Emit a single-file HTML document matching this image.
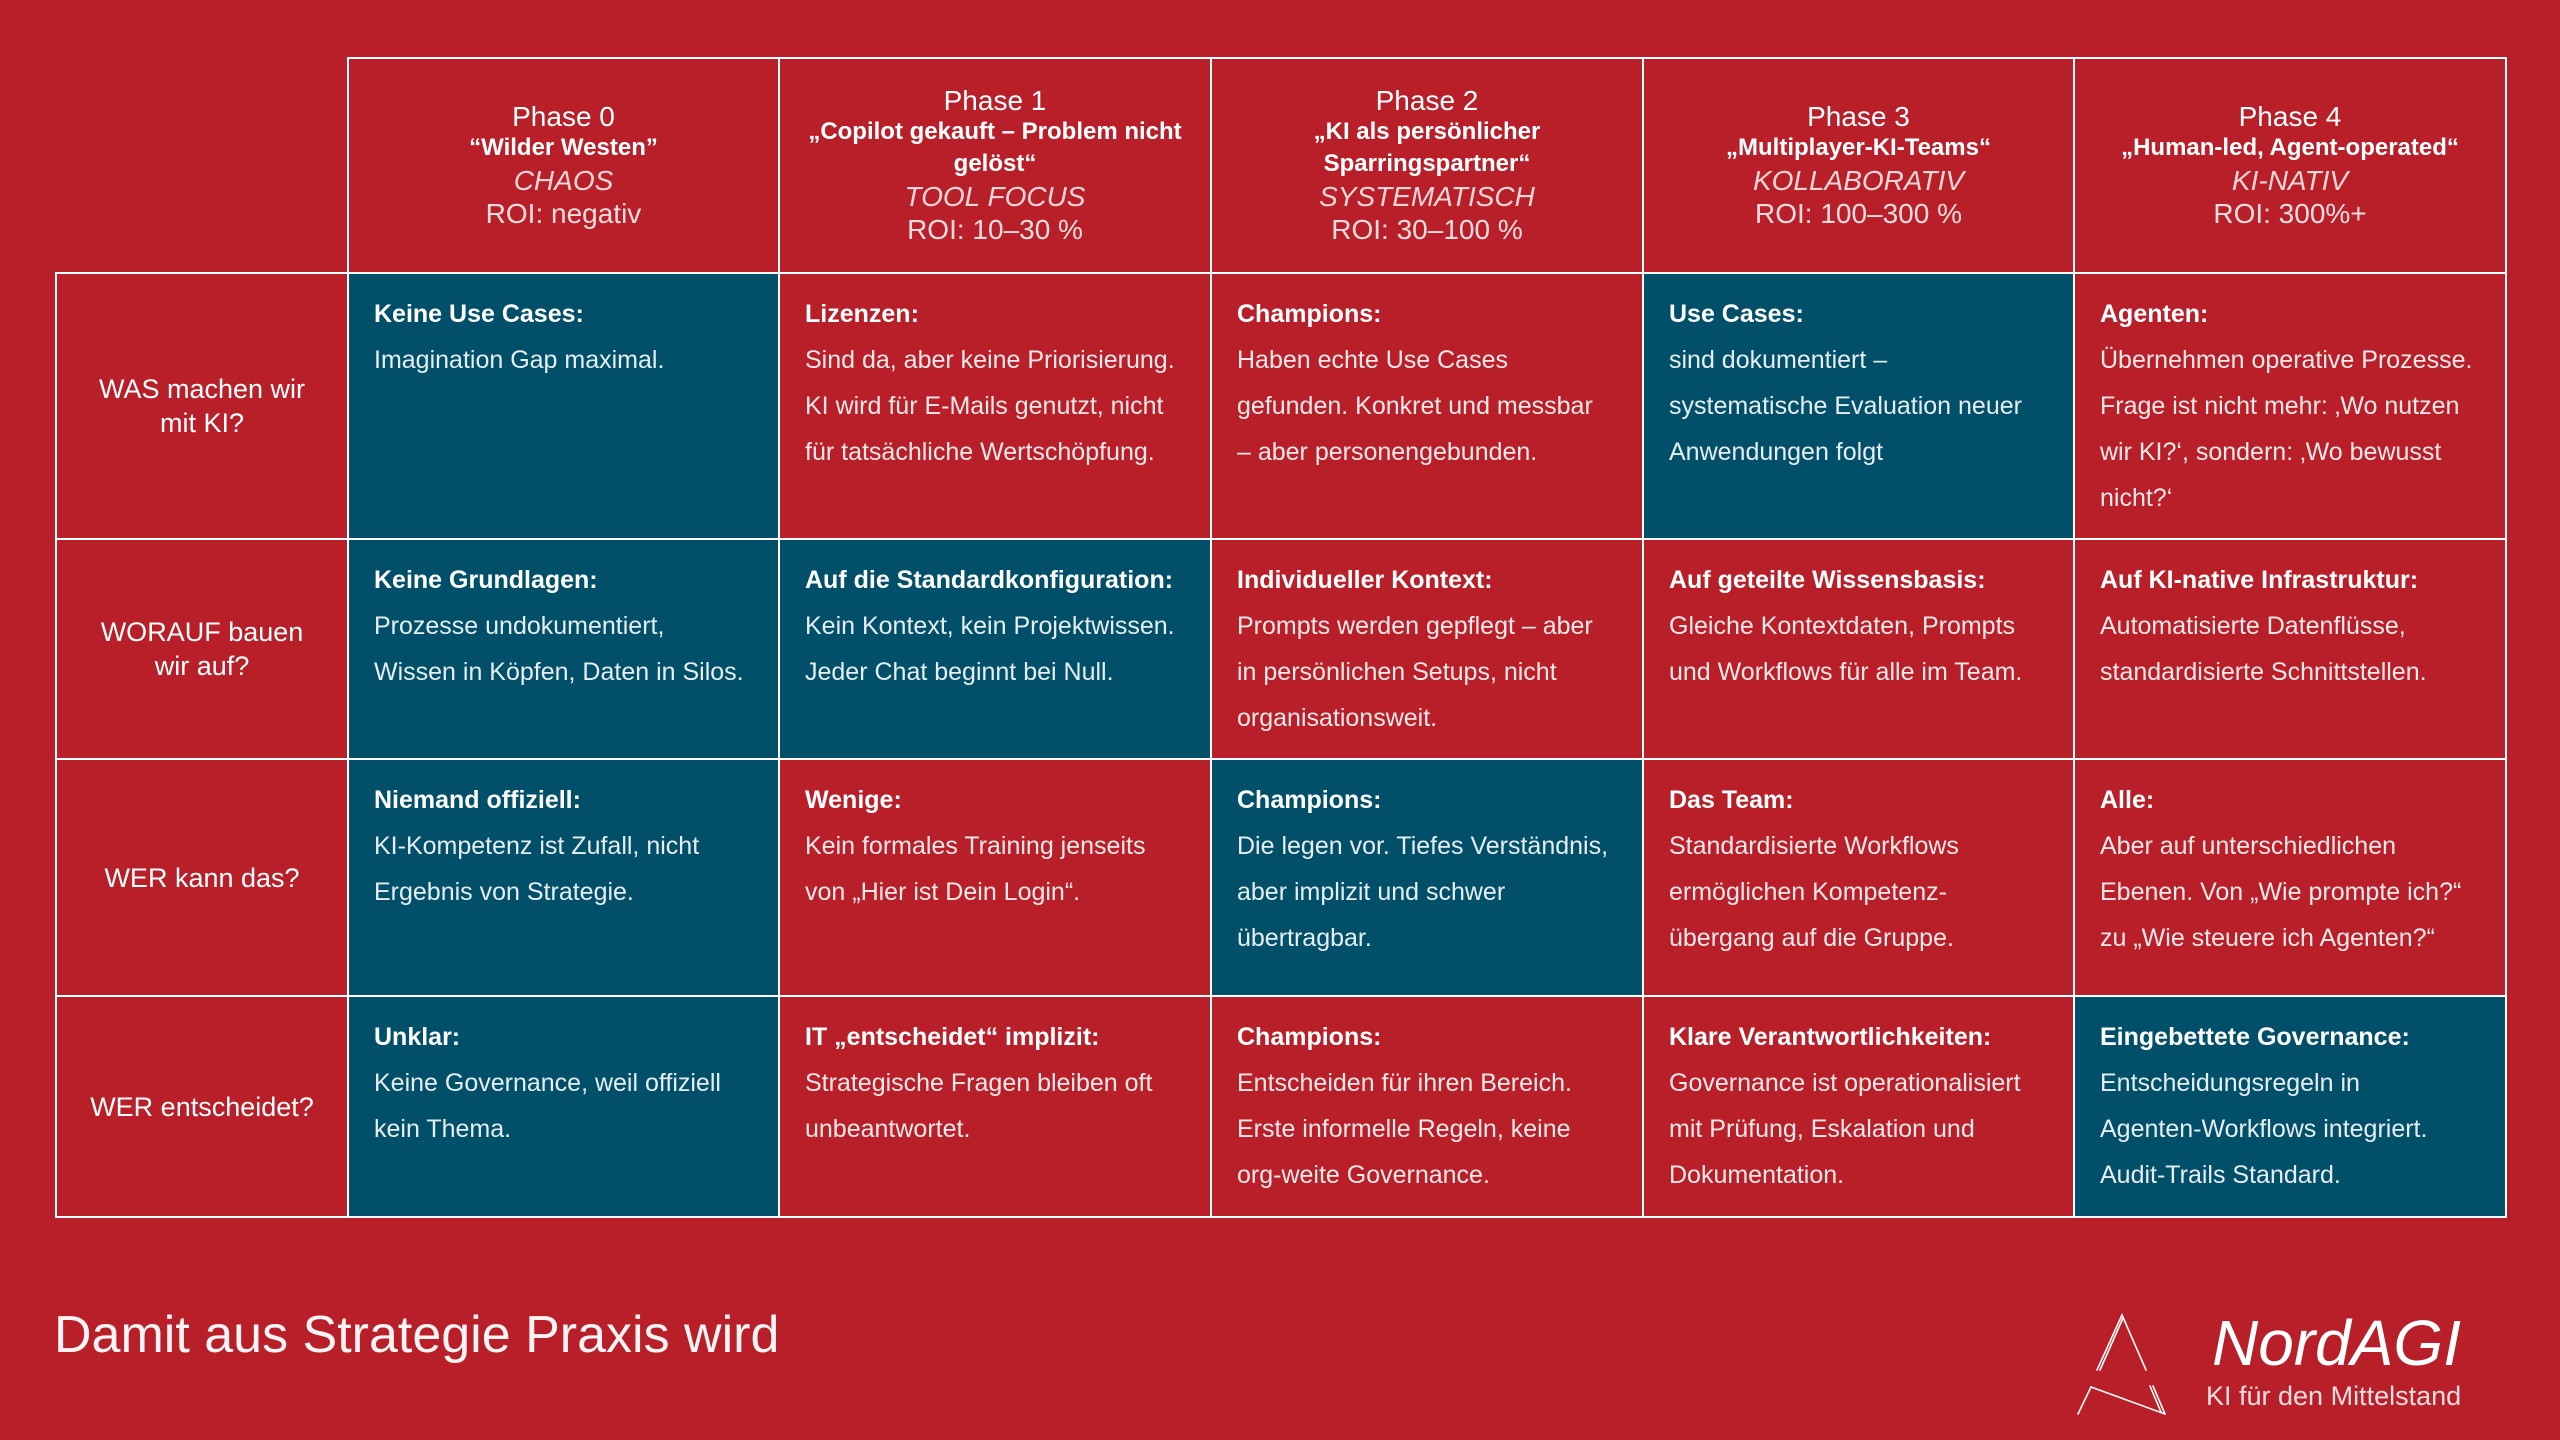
<!DOCTYPE html>
<html>
<head>
<meta charset="utf-8">
<style>
  html,body{margin:0;padding:0;}
  body{width:2560px;height:1440px;background:#B81F28;position:relative;overflow:hidden;
    font-family:"Liberation Sans","DejaVu Sans",sans-serif;color:#fff;}
  .hl{position:absolute;height:2px;background:#fff;}
  .vl{position:absolute;width:2px;background:#fff;}
  .blue{position:absolute;background:#024F6A;}
  .hdr{position:absolute;top:59px;height:213px;display:flex;flex-direction:column;justify-content:center;align-items:center;text-align:center;white-space:nowrap;}
  .hdr .ph{font-size:28px;line-height:30px;}
  .hdr .sub{font-size:24px;font-weight:bold;line-height:32px;}
  .hdr .it{font-size:28px;font-style:italic;line-height:33px;color:rgba(255,255,255,0.82);}
  .hdr .roi{font-size:28px;line-height:33px;color:rgba(255,255,255,0.85);}
  .lab{position:absolute;left:57px;width:290px;display:flex;align-items:center;justify-content:center;text-align:center;font-size:27px;line-height:34px;}
  .cell{position:absolute;font-size:25px;line-height:46px;white-space:nowrap;color:rgba(255,255,255,0.9);}
  .cell b{color:#fff;font-weight:bold;}
</style>
</head>
<body>

<!-- blue cells -->
<!-- row1 273-539 -->
<div class="blue" style="left:349px;top:274px;width:430px;height:265px;"></div>
<div class="blue" style="left:1644px;top:274px;width:430px;height:265px;"></div>
<!-- row2 539-759 -->
<div class="blue" style="left:349px;top:540px;width:430px;height:219px;"></div>
<div class="blue" style="left:780px;top:540px;width:431px;height:219px;"></div>
<!-- row3 759-996 -->
<div class="blue" style="left:349px;top:760px;width:430px;height:236px;"></div>
<div class="blue" style="left:1212px;top:760px;width:431px;height:236px;"></div>
<!-- row4 996-1217 -->
<div class="blue" style="left:349px;top:997px;width:430px;height:220px;"></div>
<div class="blue" style="left:2075px;top:997px;width:431px;height:220px;"></div>

<!-- grid lines -->
<div class="hl" style="left:347px;top:57px;width:2160px;"></div>
<div class="hl" style="left:55px;top:272px;width:2452px;"></div>
<div class="hl" style="left:55px;top:538px;width:2452px;"></div>
<div class="hl" style="left:55px;top:758px;width:2452px;"></div>
<div class="hl" style="left:55px;top:995px;width:2452px;"></div>
<div class="hl" style="left:55px;top:1216px;width:2452px;"></div>

<div class="vl" style="left:55px;top:272px;height:946px;"></div>
<div class="vl" style="left:347px;top:57px;height:1161px;"></div>
<div class="vl" style="left:778px;top:57px;height:1161px;"></div>
<div class="vl" style="left:1210px;top:57px;height:1161px;"></div>
<div class="vl" style="left:1642px;top:57px;height:1161px;"></div>
<div class="vl" style="left:2073px;top:57px;height:1161px;"></div>
<div class="vl" style="left:2505px;top:57px;height:1161px;"></div>

<!-- headers -->
<div class="hdr" style="left:349px;width:429px;">
  <div class="ph">Phase 0</div>
  <div class="sub">“Wilder Westen”</div>
  <div class="it">CHAOS</div>
  <div class="roi">ROI: negativ</div>
</div>
<div class="hdr" style="left:780px;width:430px;">
  <div class="ph">Phase 1</div>
  <div class="sub">„Copilot gekauft – Problem nicht</div>
  <div class="sub">gelöst“</div>
  <div class="it">TOOL FOCUS</div>
  <div class="roi">ROI: 10–30 %</div>
</div>
<div class="hdr" style="left:1212px;width:430px;">
  <div class="ph">Phase 2</div>
  <div class="sub">„KI als persönlicher</div>
  <div class="sub">Sparringspartner“</div>
  <div class="it">SYSTEMATISCH</div>
  <div class="roi">ROI: 30–100 %</div>
</div>
<div class="hdr" style="left:1644px;width:429px;">
  <div class="ph">Phase 3</div>
  <div class="sub">„Multiplayer-KI-Teams“</div>
  <div class="it">KOLLABORATIV</div>
  <div class="roi">ROI: 100–300 %</div>
</div>
<div class="hdr" style="left:2075px;width:430px;">
  <div class="ph">Phase 4</div>
  <div class="sub">„Human-led, Agent-operated“</div>
  <div class="it">KI-NATIV</div>
  <div class="roi">ROI: 300%+</div>
</div>

<!-- row labels -->
<div class="lab" style="top:274px;height:264px;">WAS machen wir<br>mit KI?</div>
<div class="lab" style="top:540px;height:218px;">WORAUF bauen<br>wir auf?</div>
<div class="lab" style="top:760px;height:235px;">WER kann das?</div>
<div class="lab" style="top:997px;height:219px;">WER entscheidet?</div>

<!-- row 1 (top 273) -->
<div class="cell" style="left:374px;top:291px;"><b>Keine Use Cases:</b><br>Imagination Gap maximal.</div>
<div class="cell" style="left:805px;top:291px;"><b>Lizenzen:</b><br>Sind da, aber keine Priorisierung.<br>KI wird für E-Mails genutzt, nicht<br>für tatsächliche Wertschöpfung.</div>
<div class="cell" style="left:1237px;top:291px;"><b>Champions:</b><br>Haben echte Use Cases<br>gefunden. Konkret und messbar<br>– aber personengebunden.</div>
<div class="cell" style="left:1669px;top:291px;"><b>Use Cases:</b><br>sind dokumentiert –<br>systematische Evaluation neuer<br>Anwendungen folgt</div>
<div class="cell" style="left:2100px;top:291px;"><b>Agenten:</b><br>Übernehmen operative Prozesse.<br>Frage ist nicht mehr: ‚Wo nutzen<br>wir KI?‘, sondern: ‚Wo bewusst<br>nicht?‘</div>

<!-- row 2 (top 539) -->
<div class="cell" style="left:374px;top:557px;"><b>Keine Grundlagen:</b><br>Prozesse undokumentiert,<br>Wissen in Köpfen, Daten in Silos.</div>
<div class="cell" style="left:805px;top:557px;"><b>Auf die Standardkonfiguration:</b><br>Kein Kontext, kein Projektwissen.<br>Jeder Chat beginnt bei Null.</div>
<div class="cell" style="left:1237px;top:557px;"><b>Individueller Kontext:</b><br>Prompts werden gepflegt – aber<br>in persönlichen Setups, nicht<br>organisationsweit.</div>
<div class="cell" style="left:1669px;top:557px;"><b>Auf geteilte Wissensbasis:</b><br>Gleiche Kontextdaten, Prompts<br>und Workflows für alle im Team.</div>
<div class="cell" style="left:2100px;top:557px;"><b>Auf KI-native Infrastruktur:</b><br>Automatisierte Datenflüsse,<br>standardisierte Schnittstellen.</div>

<!-- row 3 (top 759) -->
<div class="cell" style="left:374px;top:777px;"><b>Niemand offiziell:</b><br>KI-Kompetenz ist Zufall, nicht<br>Ergebnis von Strategie.</div>
<div class="cell" style="left:805px;top:777px;"><b>Wenige:</b><br>Kein formales Training jenseits<br>von „Hier ist Dein Login“.</div>
<div class="cell" style="left:1237px;top:777px;"><b>Champions:</b><br>Die legen vor. Tiefes Verständnis,<br>aber implizit und schwer<br>übertragbar.</div>
<div class="cell" style="left:1669px;top:777px;"><b>Das Team:</b><br>Standardisierte Workflows<br>ermöglichen Kompetenz-<br>übergang auf die Gruppe.</div>
<div class="cell" style="left:2100px;top:777px;"><b>Alle:</b><br>Aber auf unterschiedlichen<br>Ebenen. Von „Wie prompte ich?“<br>zu „Wie steuere ich Agenten?“</div>

<!-- row 4 (top 996) -->
<div class="cell" style="left:374px;top:1014px;"><b>Unklar:</b><br>Keine Governance, weil offiziell<br>kein Thema.</div>
<div class="cell" style="left:805px;top:1014px;"><b>IT „entscheidet“ implizit:</b><br>Strategische Fragen bleiben oft<br>unbeantwortet.</div>
<div class="cell" style="left:1237px;top:1014px;"><b>Champions:</b><br>Entscheiden für ihren Bereich.<br>Erste informelle Regeln, keine<br>org-weite Governance.</div>
<div class="cell" style="left:1669px;top:1014px;"><b>Klare Verantwortlichkeiten:</b><br>Governance ist operationalisiert<br>mit Prüfung, Eskalation und<br>Dokumentation.</div>
<div class="cell" style="left:2100px;top:1014px;"><b>Eingebettete Governance:</b><br>Entscheidungsregeln in<br>Agenten-Workflows integriert.<br>Audit-Trails Standard.</div>

<!-- footer title -->
<div style="position:absolute;left:54px;top:1309px;font-size:52px;line-height:52px;white-space:nowrap;color:rgba(255,255,255,0.95);">Damit aus Strategie Praxis wird</div>

<!-- logo -->
<svg style="position:absolute;left:0;top:0;" width="2560" height="1440" viewBox="0 0 2560 1440">
  <g fill="none" stroke="#fff" stroke-width="1.6" stroke-linecap="round" stroke-linejoin="miter">
    <polyline points="2097,1370 2122,1315 2146,1370"/>
    <line x1="2100" y1="1370" x2="2123" y2="1318"/>
    <polyline points="2078,1414 2091,1387 2165,1414"/>
    <line x1="2150" y1="1386" x2="2161" y2="1412"/>
    <line x1="2153" y1="1386" x2="2165" y2="1414"/>
  </g>
</svg>
<div style="position:absolute;left:2212px;top:1311px;font-size:64px;line-height:64px;font-style:italic;white-space:nowrap;">NordAGI</div>
<div style="position:absolute;left:2206px;top:1383px;font-size:27px;line-height:27px;white-space:nowrap;color:rgba(255,255,255,0.85);">KI für den Mittelstand</div>

</body>
</html>
